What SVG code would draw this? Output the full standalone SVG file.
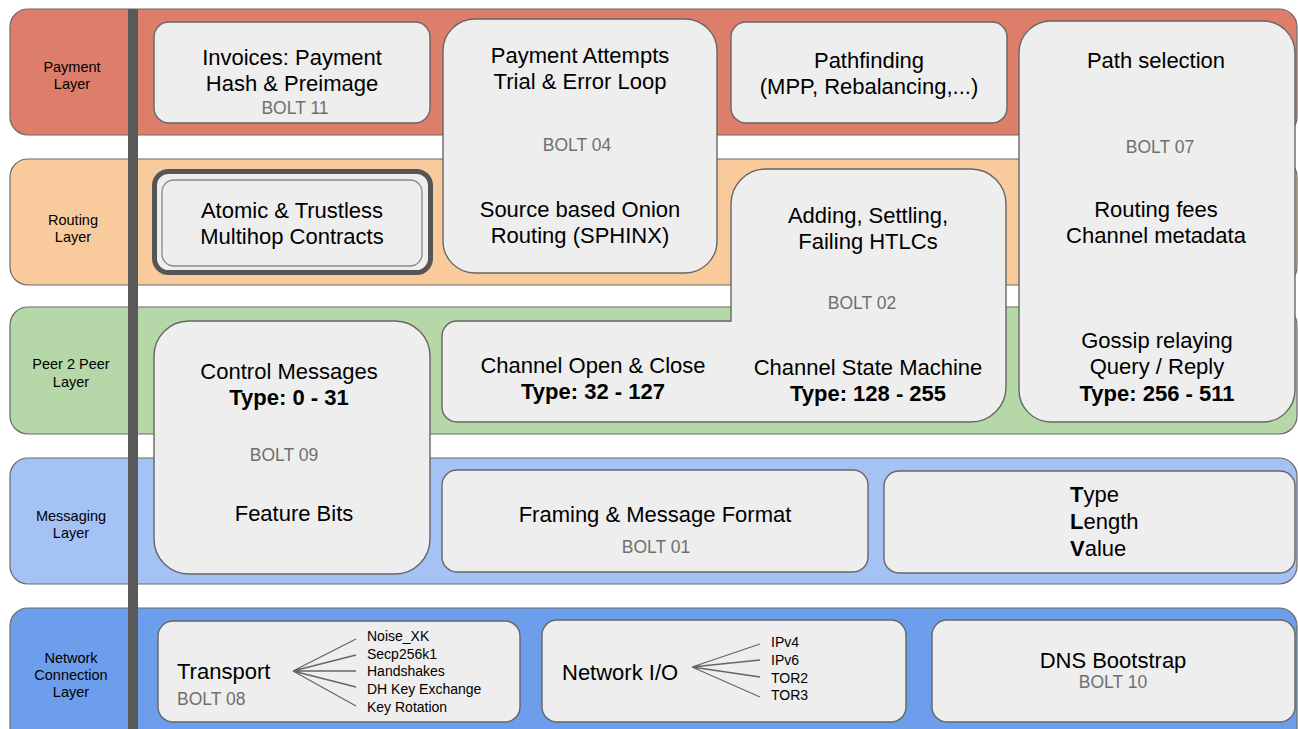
<svg xmlns="http://www.w3.org/2000/svg" width="1298" height="729" viewBox="0 0 1298 729">
  <style>
    text { font-family: "Liberation Sans", Arial, sans-serif; fill: #000; text-anchor: middle; }
    .band { stroke: #6b6b6b; stroke-width: 1.2; }
    .box { fill: #eeeeee; stroke: #666666; stroke-width: 1.4; }
    .lbl { font-size: 14.5px; }
    .main { font-size: 22px; }
    .bold { font-size: 22px; font-weight: bold; }
    .bolt { font-size: 17.5px; fill: #707070; }
    .small { font-size: 14px; text-anchor: start; }
    .fan { stroke: #666666; stroke-width: 1.3; fill: none; }
  </style>

  <!-- layer bands -->
  <g id="bands">
    <rect class="band" x="10" y="9" width="1287" height="126" rx="18" fill="#dd7e6b"/>
    <rect class="band" x="10" y="159" width="1287" height="126" rx="18" fill="#f9cb9c"/>
    <rect class="band" x="10" y="307" width="1287" height="127" rx="18" fill="#b6d7a8"/>
    <rect class="band" x="10" y="458" width="1287" height="126" rx="18" fill="#a4c2f4"/>
    <rect class="band" x="10" y="608" width="1287" height="150" rx="18" fill="#6d9eeb"/>
    <rect x="128" y="9" width="10" height="720" fill="#595959"/>
  </g>

  <!-- layer names -->
  <g id="layer-labels">
    <text class="lbl" x="72" y="72">Payment</text>
    <text class="lbl" x="72" y="89">Layer</text>
    <text class="lbl" x="73" y="225">Routing</text>
    <text class="lbl" x="73" y="242">Layer</text>
    <text class="lbl" x="71" y="369">Peer 2 Peer</text>
    <text class="lbl" x="71" y="387">Layer</text>
    <text class="lbl" x="71" y="521">Messaging</text>
    <text class="lbl" x="71" y="538">Layer</text>
    <text class="lbl" x="71" y="663">Network</text>
    <text class="lbl" x="71" y="680">Connection</text>
    <text class="lbl" x="71" y="697">Layer</text>
  </g>

  <g id="invoices">
    <rect class="box" x="154" y="22" width="276" height="101" rx="15"/>
    <text class="main" x="292" y="64.5">Invoices: Payment</text>
    <text class="main" x="292" y="90.5">Hash &amp; Preimage</text>
    <text class="bolt" x="295" y="114">BOLT 11</text>
  </g>

  <g id="bolt04">
    <rect class="box" x="443" y="19" width="274" height="254" rx="32"/>
    <text class="main" x="580" y="62.5">Payment Attempts</text>
    <text class="main" x="580" y="88.5">Trial &amp; Error Loop</text>
    <text class="bolt" x="577" y="151">BOLT 04</text>
    <text class="main" x="580" y="216.5">Source based Onion</text>
    <text class="main" x="580" y="242.5">Routing (SPHINX)</text>
  </g>

  <g id="pathfinding">
    <rect class="box" x="731" y="22" width="276" height="101" rx="15"/>
    <text class="main" x="869" y="67.5">Pathfinding</text>
    <text class="main" x="869" y="93.5">(MPP, Rebalancing,...)</text>
  </g>

  <g id="bolt07">
    <rect class="box" x="1019" y="21" width="276" height="401" rx="32"/>
    <text class="main" x="1156" y="67.5">Path selection</text>
    <text class="bolt" x="1160" y="153">BOLT 07</text>
    <text class="main" x="1156" y="216.5">Routing fees</text>
    <text class="main" x="1156" y="242.5">Channel metadata</text>
    <text class="main" x="1157" y="347.5">Gossip relaying</text>
    <text class="main" x="1157" y="374">Query / Reply</text>
    <text class="bold" x="1157" y="400.5">Type: 256 - 511</text>
  </g>

  <g id="htlc-contracts">
    <rect x="154.5" y="171.5" width="276" height="101" rx="14" fill="#eeeeee" stroke="#555555" stroke-width="5"/>
    <rect x="162" y="180" width="260" height="86" rx="12" fill="#eeeeee" stroke="#8a8a8a" stroke-width="1.3"/>
    <text class="main" x="292" y="217.5">Atomic &amp; Trustless</text>
    <text class="main" x="292" y="244">Multihop Contracts</text>
  </g>

  <g id="bolt02">
    <path class="box" d="M457,321 H731 V204 A35,35 0 0 1 766,169 H971 A35,35 0 0 1 1006,204 V387 A35,35 0 0 1 971,422 H457 A15,15 0 0 1 442,407 V336 A15,15 0 0 1 457,321 Z"/>
    <text class="main" x="868" y="222.5">Adding, Settling,</text>
    <text class="main" x="868" y="249">Failing HTLCs</text>
    <text class="bolt" x="862" y="309">BOLT 02</text>
    <text class="main" x="593" y="372.5">Channel Open &amp; Close</text>
    <text class="bold" x="593" y="398.5">Type: 32 - 127</text>
    <text class="main" x="868" y="374.5">Channel State Machine</text>
    <text class="bold" x="868" y="400.5">Type: 128 - 255</text>
  </g>

  <g id="bolt09">
    <rect class="box" x="154" y="321" width="276" height="253" rx="35"/>
    <text class="main" x="289" y="378.5">Control Messages</text>
    <text class="bold" x="289" y="405">Type: 0 - 31</text>
    <text class="bolt" x="284" y="461">BOLT 09</text>
    <text class="main" x="294" y="520.5">Feature Bits</text>
  </g>

  <g id="bolt01">
    <rect class="box" x="442" y="470" width="426" height="102" rx="15"/>
    <text class="main" x="655" y="521.5">Framing &amp; Message Format</text>
    <text class="bolt" x="656" y="553">BOLT 01</text>
  </g>

  <g id="tlv">
    <rect class="box" x="884" y="471" width="411" height="102" rx="15"/>
    <text class="main" x="1070" y="501.5" style="text-anchor:start"><tspan font-weight="bold">T</tspan>ype</text>
    <text class="main" x="1070" y="528.5" style="text-anchor:start"><tspan font-weight="bold">L</tspan>ength</text>
    <text class="main" x="1070" y="555.5" style="text-anchor:start"><tspan font-weight="bold">V</tspan>alue</text>
  </g>

  <g id="bolt08">
    <rect class="box" x="158" y="621" width="362" height="101" rx="15"/>
    <text class="main" x="177" y="679" style="text-anchor:start">Transport</text>
    <text class="bolt" x="177" y="704.5" style="text-anchor:start">BOLT 08</text>
    <text class="small" x="367" y="641">Noise_XK</text>
    <text class="small" x="367" y="659">Secp256k1</text>
    <text class="small" x="367" y="676">Handshakes</text>
    <text class="small" x="367" y="694">DH Key Exchange</text>
    <text class="small" x="367" y="712">Key Rotation</text>
  </g>

  <g id="network-io">
    <rect class="box" x="542" y="620" width="364" height="102" rx="15"/>
    <text class="main" x="562" y="679.5" style="text-anchor:start">Network I/O</text>
    <text class="small" x="771" y="647">IPv4</text>
    <text class="small" x="771" y="665">IPv6</text>
    <text class="small" x="771" y="683">TOR2</text>
    <text class="small" x="771" y="700">TOR3</text>
  </g>

  <g id="bolt10">
    <rect class="box" x="932" y="620" width="363" height="102" rx="15"/>
    <text class="main" x="1113" y="667.5">DNS Bootstrap</text>
    <text class="bolt" x="1113" y="688">BOLT 10</text>
  </g>

  <!-- fan-out connectors -->
  <g id="connectors">
    <path class="fan" d="M293,671 L356,639 M293,671 L356,655 M293,671 L356,671 M293,671 L356,687 M293,671 L356,706"/>
    <path class="fan" d="M692,667 L760,644 M692,667 L760,660 M692,667 L760,677 M692,667 L760,697"/>
  </g>
</svg>
